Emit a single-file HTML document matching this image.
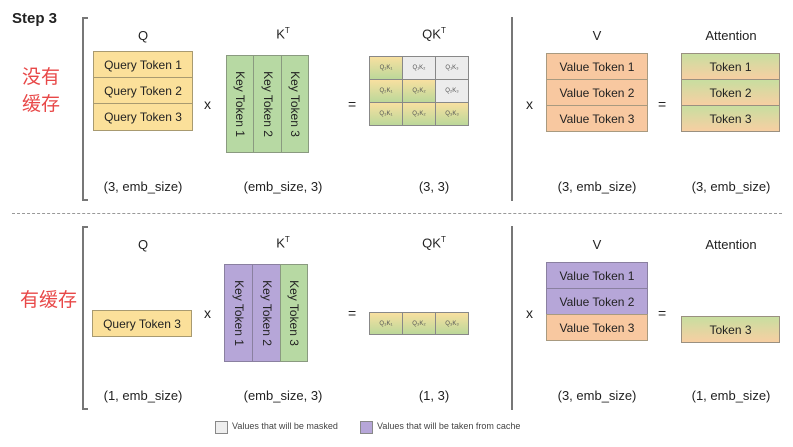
<!DOCTYPE html>
<html><head><meta charset="utf-8"><style>
body{margin:0;width:793px;height:447px;background:#fff;position:relative;overflow:hidden;font-family:"Liberation Sans","Noto Sans CJK SC",sans-serif;color:#222}
div{position:absolute;box-sizing:border-box}
.lb{font-size:13px;text-align:center;width:120px}
.op{font-size:14px}
.y{background:#fbe09a;border:1px solid #a89a70}
.g{background:#b7d9a3;border:1px solid #8a9a80}
.o{background:#f8c8a0;border:1px solid #a89a80}
.p{background:#b6a6d8;border:1px solid #8a80a0}
.row{font-size:12px;text-align:center;display:flex;align-items:center;justify-content:center}
.att{background:linear-gradient(#c8dea0,#f7cfa2);border:1px solid #9a9080}
.col{display:flex;align-items:center;justify-content:center}
.col span{transform:rotate(90deg);white-space:nowrap;font-size:12px}
.c{border:1px solid #888;font-size:6px;display:flex;align-items:center;justify-content:center;color:#555}
.cy{background:linear-gradient(#f8e0a0,#bcd89a)}
.cg{background:#ececec}
.br{border:2px solid #777;border-right:none;width:6px}
.brr{border-left:2px solid #777;width:2px}
.cn{color:#e84848;font-size:19px;line-height:27px}
</style></head><body>
<div style="left:12px;top:10px;font-weight:bold;font-size:15px">Step 3</div>
<div class="cn" style="left:22px;top:64px">没有<br>缓存</div>
<div class="cn" style="left:20px;top:287px">有缓存</div>
<div class="br" style="left:82px;top:17px;height:184px"></div>
<div class="brr" style="left:511px;top:17px;height:184px"></div>
<div class="br" style="left:82px;top:226px;height:184px"></div>
<div class="brr" style="left:511px;top:226px;height:184px"></div>
<div style="left:12px;top:213px;width:770px;border-top:1px dashed #999"></div>

<!-- top -->
<div class="lb" style="left:83px;top:28px">Q</div>
<div class="lb" style="left:223px;top:26px">K<sup style="font-size:8px">T</sup></div>
<div class="lb" style="left:374px;top:26px">QK<sup style="font-size:8px">T</sup></div>
<div class="lb" style="left:537px;top:28px">V</div>
<div class="lb" style="left:671px;top:28px">Attention</div>
<div class="y row" style="left:93px;top:51px;width:100px;height:27px">Query Token 1</div>
<div class="y row" style="left:93px;top:77px;width:100px;height:27px">Query Token 2</div>
<div class="y row" style="left:93px;top:103px;width:100px;height:28px">Query Token 3</div>
<div class="op" style="left:204px;top:96px">x</div>
<div class="g col" style="left:226px;top:55px;width:28px;height:98px"><span>Key Token 1</span></div>
<div class="g col" style="left:253px;top:55px;width:29px;height:98px"><span>Key Token 2</span></div>
<div class="g col" style="left:281px;top:55px;width:28px;height:98px"><span>Key Token 3</span></div>
<div class="op" style="left:348px;top:96px">=</div>
<div class="c cy" style="left:369px;top:56px;width:34px;height:24px">Q₁K₁</div>
<div class="c cg" style="left:402px;top:56px;width:34px;height:24px">Q₁K₂</div>
<div class="c cg" style="left:435px;top:56px;width:34px;height:24px">Q₁K₃</div>
<div class="c cy" style="left:369px;top:79px;width:34px;height:24px">Q₂K₁</div>
<div class="c cy" style="left:402px;top:79px;width:34px;height:24px">Q₂K₂</div>
<div class="c cg" style="left:435px;top:79px;width:34px;height:24px">Q₂K₃</div>
<div class="c cy" style="left:369px;top:102px;width:34px;height:24px">Q₃K₁</div>
<div class="c cy" style="left:402px;top:102px;width:34px;height:24px">Q₃K₂</div>
<div class="c cy" style="left:435px;top:102px;width:34px;height:24px">Q₃K₃</div>
<div class="op" style="left:526px;top:96px">x</div>
<div class="o row" style="left:546px;top:53px;width:102px;height:27px">Value Token 1</div>
<div class="o row" style="left:546px;top:79px;width:102px;height:27px">Value Token 2</div>
<div class="o row" style="left:546px;top:105px;width:102px;height:27px">Value Token 3</div>
<div class="op" style="left:658px;top:96px">=</div>
<div class="att row" style="left:681px;top:53px;width:99px;height:27px">Token 1</div>
<div class="att row" style="left:681px;top:79px;width:99px;height:27px">Token 2</div>
<div class="att row" style="left:681px;top:105px;width:99px;height:27px">Token 3</div>
<div class="lb" style="left:83px;top:179px">(3, emb_size)</div>
<div class="lb" style="left:223px;top:179px">(emb_size, 3)</div>
<div class="lb" style="left:374px;top:179px">(3, 3)</div>
<div class="lb" style="left:537px;top:179px">(3, emb_size)</div>
<div class="lb" style="left:671px;top:179px">(3, emb_size)</div>

<!-- bottom -->
<div class="lb" style="left:83px;top:237px">Q</div>
<div class="lb" style="left:223px;top:235px">K<sup style="font-size:8px">T</sup></div>
<div class="lb" style="left:374px;top:235px">QK<sup style="font-size:8px">T</sup></div>
<div class="lb" style="left:537px;top:237px">V</div>
<div class="lb" style="left:671px;top:237px">Attention</div>
<div class="y row" style="left:92px;top:310px;width:100px;height:27px">Query Token 3</div>
<div class="op" style="left:204px;top:305px">x</div>
<div class="p col" style="left:224px;top:264px;width:29px;height:98px"><span>Key Token 1</span></div>
<div class="p col" style="left:252px;top:264px;width:29px;height:98px"><span>Key Token 2</span></div>
<div class="g col" style="left:280px;top:264px;width:28px;height:98px"><span>Key Token 3</span></div>
<div class="op" style="left:348px;top:305px">=</div>
<div class="c cy" style="left:369px;top:312px;width:34px;height:23px">Q₃K₁</div>
<div class="c cy" style="left:402px;top:312px;width:34px;height:23px">Q₃K₂</div>
<div class="c cy" style="left:435px;top:312px;width:34px;height:23px">Q₃K₃</div>
<div class="op" style="left:526px;top:305px">x</div>
<div class="p row" style="left:546px;top:262px;width:102px;height:27px">Value Token 1</div>
<div class="p row" style="left:546px;top:288px;width:102px;height:27px">Value Token 2</div>
<div class="o row" style="left:546px;top:314px;width:102px;height:27px">Value Token 3</div>
<div class="op" style="left:658px;top:305px">=</div>
<div class="att row" style="left:681px;top:316px;width:99px;height:27px">Token 3</div>
<div class="lb" style="left:83px;top:388px">(1, emb_size)</div>
<div class="lb" style="left:223px;top:388px">(emb_size, 3)</div>
<div class="lb" style="left:374px;top:388px">(1, 3)</div>
<div class="lb" style="left:537px;top:388px">(3, emb_size)</div>
<div class="lb" style="left:671px;top:388px">(1, emb_size)</div>

<!-- legend -->
<div style="left:215px;top:421px;width:13px;height:13px;background:#eee;border:1px solid #888"></div>
<div style="left:232px;top:421px;font-size:9px;color:#444">Values that will be masked</div>
<div style="left:360px;top:421px;width:13px;height:13px;background:#b6a6d8;border:1px solid #888"></div>
<div style="left:377px;top:421px;font-size:9px;color:#444">Values that will be taken from cache</div>
</body></html>
